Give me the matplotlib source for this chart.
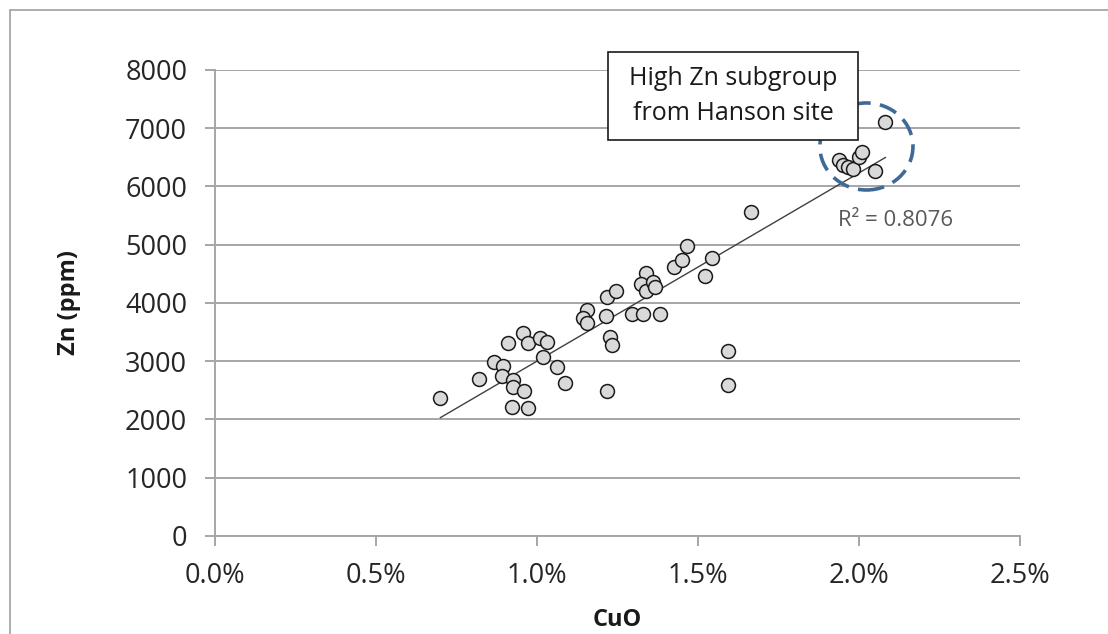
import numpy as np
import matplotlib.pyplot as plt
from matplotlib.patches import Ellipse, Rectangle
from matplotlib.ticker import FuncFormatter

# CuO (%) and Zn (ppm) per sample
cuo = [0.70, 0.82, 0.866, 0.893, 0.89, 0.926, 0.924, 0.96, 0.921, 0.973,
       0.911, 0.958, 0.973, 1.008, 1.031, 1.02, 1.063, 1.087,
       1.154, 1.143, 1.154, 1.216, 1.245, 1.213, 1.227, 1.232, 1.217,
       1.294, 1.33, 1.382, 1.339, 1.322, 1.339, 1.361, 1.366,
       1.426, 1.45, 1.466, 1.522, 1.545, 1.594, 1.594, 1.665,
       1.939, 1.951, 1.967, 1.98, 2.0, 2.01, 2.051, 2.082]
zn = [2364, 2690, 2993, 2918, 2747, 2672, 2563, 2489, 2209, 2203,
      3320, 3480, 3305, 3393, 3330, 3078, 2895, 2622,
      3880, 3742, 3662, 4108, 4206, 3782, 3410, 3279, 2489,
      3805, 3805, 3805, 4521, 4330, 4210, 4368, 4281,
      4623, 4738, 4985, 4464, 4767, 3176, 2587, 5570,
      6455, 6369, 6339, 6295, 6500, 6600, 6271, 7106]

r2_label = "R² = 0.8076"
note_text = "High Zn subgroup\nfrom Hanson site"

plt.rcParams['font.family'] = ['Open Sans', 'DejaVu Sans']

fig = plt.figure(figsize=(11.08, 6.34), dpi=100)
ax = fig.add_axes([0.194, 0.1546, 0.7266, 0.735])

grid_color = '#a6a6a6'

# outer chart frame
fig.patches.append(Rectangle((10 / 1108, -0.1), 1.2, 0.1 + 624 / 634,
                             transform=fig.transFigure, fill=False,
                             edgecolor='#a0a0a0', linewidth=1.2))

x = np.array(cuo)
y = np.array(zn)

# linear trendline over the data range
slope, intercept = np.polyfit(x, y, 1)
xs = np.array([x.min(), x.max()])
ax.plot(xs, slope * xs + intercept, color='#404040', linewidth=1.0, zorder=2)

ax.scatter(x, y, s=100, facecolor='#d9d9d9', edgecolor='#1a1a1a',
           linewidth=1.1, zorder=3)

ax.set_xlim(0, 2.5)
ax.set_ylim(0, 8000)
ax.set_xticks(np.arange(0, 2.51, 0.5))
ax.set_yticks(np.arange(0, 8001, 1000))
ax.xaxis.set_major_formatter(FuncFormatter(lambda v, p: f"{v:.1f}%"))
ax.yaxis.grid(True, color=grid_color, linewidth=1.4)
ax.set_axisbelow(True)

for side in ['top', 'right']:
    ax.spines[side].set_visible(False)
for side in ['left', 'bottom']:
    ax.spines[side].set_color(grid_color)
    ax.spines[side].set_linewidth(1.4)

ax.tick_params(axis='both', colors=grid_color, length=7, width=1.4,
               labelsize=19.5, labelcolor='#262626')
ax.tick_params(axis='y', pad=13)
ax.tick_params(axis='x', pad=12)

ax.set_xlabel('CuO', fontsize=17, fontweight='bold', labelpad=13, color='#1a1a1a')
ax.set_ylabel('Zn (ppm)', fontsize=17, fontweight='bold', labelpad=32, color='#1a1a1a')

# dashed ring round the high-Zn group
ax.add_patch(Ellipse((2.023, 6687), 0.289, 1494, fill=False,
                     edgecolor='#3f6a98', linewidth=2.6,
                     linestyle=(0, (5, 2.6)), zorder=4))

# callout box
ax.add_patch(Rectangle((1.2205, 6798), 0.7765, 1511, facecolor='white',
                       edgecolor='#1a1a1a', linewidth=1.2, clip_on=False, zorder=5))
ax.text(1.609, 7553, note_text, ha='center', va='center', fontsize=18,
        linespacing=1.55, color='#1a1a1a', zorder=6)

ax.text(1.935, 5408, r2_label, ha='left', va='center', fontsize=16,
        color='#595959')

fig.savefig('out.png', dpi=100)
